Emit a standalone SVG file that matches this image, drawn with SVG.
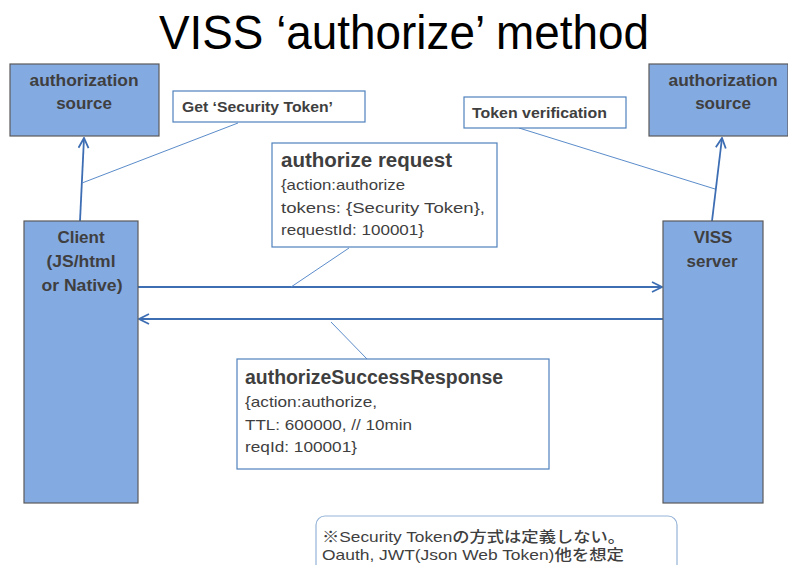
<svg xmlns="http://www.w3.org/2000/svg" width="788" height="565" viewBox="0 0 788 565">
  <style>
    text { font-family: "Liberation Sans", Arial, sans-serif; fill: #3f3f3f; }
    .title { font-size: 48px; fill: #000; }
    .node { fill: #84aae2; stroke: #5a5a5a; stroke-width: 1.2; }
    .lbl { font-size: 17px; font-weight: bold; text-anchor: middle; }
    .callout { fill: #fff; stroke: #4f81bd; stroke-width: 1.2; }
    .ctext { font-size: 15px; font-weight: bold; }
    .head { font-size: 20px; font-weight: bold; }
    .body { font-size: 15px; }
    .arrow { stroke: #3d6db3; stroke-width: 1.8; fill: none; }
    .lead { stroke: #5b8cca; stroke-width: 1; fill: none; }
    .note { fill: #fff; stroke: #95b3d7; stroke-width: 1.2; }
    .cjk { font-family: "Liberation Sans", "Noto Sans CJK JP", sans-serif; font-size: 15px; font-weight: 500; }
  </style>
  <defs>
    <marker id="open" viewBox="0 0 12 12" refX="11" refY="6" markerWidth="12" markerHeight="12" markerUnits="userSpaceOnUse" orient="auto">
      <path d="M1,1 L11,6 L1,11" fill="none" stroke="#3d6db3" stroke-width="1.8"/>
    </marker>
  </defs>

  <rect width="788" height="565" fill="#fff"/>

  <text class="title" x="159" y="49" textLength="490" lengthAdjust="spacingAndGlyphs">VISS ‘authorize’ method</text>

  <!-- connectors -->
  <g id="connectors">
    <line class="arrow" x1="80" y1="221" x2="84" y2="138" marker-end="url(#open)"/>
    <line class="arrow" x1="712" y1="221" x2="722" y2="138" marker-end="url(#open)"/>
    <line class="arrow" x1="138" y1="287" x2="662" y2="287" marker-end="url(#open)"/>
    <line class="arrow" x1="663" y1="319" x2="139" y2="319" marker-end="url(#open)"/>
    <line class="lead" x1="238" y1="123" x2="82" y2="183"/>
    <line class="lead" x1="519" y1="128" x2="715" y2="189"/>
    <line class="lead" x1="349" y1="248" x2="291" y2="287"/>
    <line class="lead" x1="331" y1="322" x2="367" y2="359"/>
  </g>

  <g id="auth-source-left">
    <rect class="node" x="10" y="64" width="149" height="72"/>
    <text class="lbl" x="84" y="86" textLength="109" lengthAdjust="spacingAndGlyphs">authorization</text>
    <text class="lbl" x="84" y="109">source</text>
  </g>

  <g id="auth-source-right">
    <rect class="node" x="649" y="64" width="139" height="72"/>
    <text class="lbl" x="723" y="86" textLength="109" lengthAdjust="spacingAndGlyphs">authorization</text>
    <text class="lbl" x="723" y="109">source</text>
  </g>

  <g id="get-token">
    <rect class="callout" x="173" y="91" width="192" height="31"/>
    <text class="ctext" x="182" y="112" textLength="151" lengthAdjust="spacingAndGlyphs">Get ‘Security Token’</text>
  </g>

  <g id="token-verification">
    <rect class="callout" x="464" y="97" width="162" height="31"/>
    <text class="ctext" x="472" y="118" textLength="135" lengthAdjust="spacingAndGlyphs">Token verification</text>
  </g>

  <g id="client">
    <rect class="node" x="24" y="221" width="114" height="282"/>
    <text class="lbl" x="81" y="243">Client</text>
    <text class="lbl" x="81" y="267" textLength="69" lengthAdjust="spacingAndGlyphs">(JS/html</text>
    <text class="lbl" x="82" y="291" textLength="81" lengthAdjust="spacingAndGlyphs">or Native)</text>
  </g>

  <g id="viss-server">
    <rect class="node" x="663" y="221" width="100" height="282"/>
    <text class="lbl" x="713" y="243">VISS</text>
    <text class="lbl" x="712" y="267" textLength="51" lengthAdjust="spacingAndGlyphs">server</text>
  </g>

  <g id="authorize-request">
    <rect class="callout" x="272" y="143" width="225" height="104"/>
    <text class="head" x="281" y="167" textLength="171" lengthAdjust="spacingAndGlyphs">authorize request</text>
    <text class="body" x="281" y="190" textLength="124" lengthAdjust="spacingAndGlyphs">{action:authorize</text>
    <text class="body" x="281" y="213" textLength="204" lengthAdjust="spacingAndGlyphs">tokens: {Security Token},</text>
    <text class="body" x="281" y="235" textLength="143" lengthAdjust="spacingAndGlyphs">requestId: 100001}</text>
  </g>

  <g id="authorize-response">
    <rect class="callout" x="237" y="359" width="312" height="110"/>
    <text class="head" x="245" y="384" textLength="258" lengthAdjust="spacingAndGlyphs">authorizeSuccessResponse</text>
    <text class="body" x="245" y="407" textLength="132" lengthAdjust="spacingAndGlyphs">{action:authorize,</text>
    <text class="body" x="245" y="430" textLength="167" lengthAdjust="spacingAndGlyphs">TTL: 600000, // 10min</text>
    <text class="body" x="245" y="452" textLength="112" lengthAdjust="spacingAndGlyphs">reqId: 100001}</text>
  </g>

  <g id="note">
    <rect class="note" x="316" y="516" width="361" height="70" rx="9"/>
    <text class="cjk" x="322" y="542" textLength="303" lengthAdjust="spacingAndGlyphs">※Security Tokenの方式は定義しない。</text>
    <text class="cjk" x="322" y="560" textLength="302" lengthAdjust="spacingAndGlyphs">Oauth, JWT(Json Web Token)他を想定</text>
  </g>
</svg>
